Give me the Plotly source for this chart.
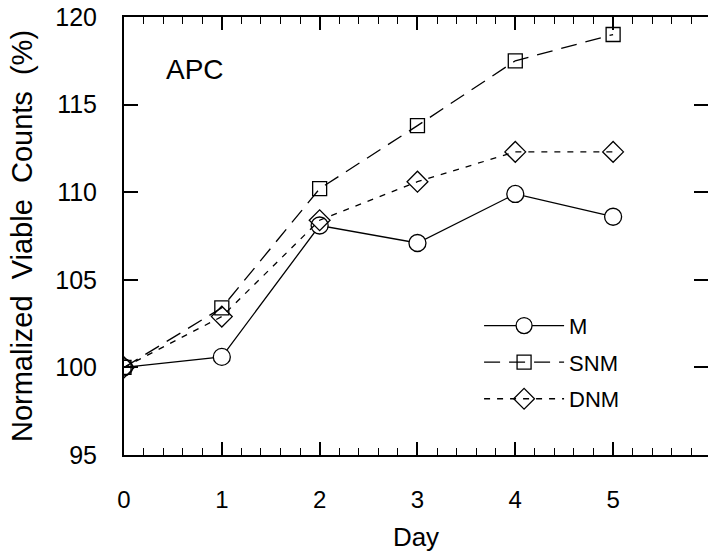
import plotly.graph_objects as go

# ---- data ----
days = [0, 1, 2, 3, 4, 5]
m_vals = [100.0, 100.6, 108.1, 107.1, 109.9, 108.6]
snm_vals = [100.0, 103.4, 110.2, 113.8, 117.5, 119.0]
dnm_vals = [100.0, 102.9, 108.4, 110.6, 112.3, 112.3]
series_names = ["M", "SNM", "DNM"]
x_tick_vals = [0, 1, 2, 3, 4, 5]
y_tick_vals = [95, 100, 105, 110, 115, 120]
panel_label = "APC"
x_title = "Day"
y_title = "Normalized\u00a0 Viable\u00a0 Counts\u00a0 (%)"

FONT = "Liberation Sans, Arial, Helvetica, sans-serif"

fig = go.Figure()
fig.add_trace(go.Scatter(
    x=days, y=m_vals, name=series_names[0], mode="lines+markers", legendgroup="g1",
    line=dict(color="black", width=1.3),
    marker=dict(symbol="circle", size=17, color="white", line=dict(color="black", width=1.3)),
))
fig.add_trace(go.Scatter(
    x=days, y=snm_vals, name=series_names[1], mode="lines+markers", legendgroup="g2",
    line=dict(color="black", width=1.3, dash="16px,9px"),
    marker=dict(symbol="square-open", size=14, color="black", line=dict(color="black", width=1.3)),
))
fig.add_trace(go.Scatter(
    x=days, y=dnm_vals, name=series_names[2], mode="lines+markers", legendgroup="g3",
    line=dict(color="black", width=1.3, dash="6px,7px"),
    marker=dict(symbol="diamond-open", size=16, color="black", line=dict(color="black", width=1.3)),
))

fig.add_annotation(x=0.73, y=117.0, xref="x", yref="y", text=panel_label, showarrow=False,
                   font=dict(family=FONT, size=28, color="black"))

fig.update_layout(
    width=708, height=555,
    margin=dict(l=124, r=0, t=17, b=100),
    paper_bgcolor="white", plot_bgcolor="white",
    font=dict(family=FONT, color="black"),
    showlegend=True,
    legend=dict(x=0.608, y=0.343, xanchor="left", yanchor="top",
                bgcolor="rgba(0,0,0,0)", font=dict(size=22, family=FONT),
                itemwidth=80, tracegroupgap=5, traceorder="grouped"),
    xaxis=dict(
        range=[0, 5.97], tickvals=x_tick_vals, ticks="inside", ticklen=13, tickwidth=1.5,
        tickcolor="black", showline=True, linecolor="black", linewidth=2, mirror="ticks",
        showgrid=False, zeroline=False, tickfont=dict(size=24, family=FONT),
        ticklabelstandoff=22, automargin=False,
        minor=dict(dtick=0.2, ticks="inside", ticklen=7, tickwidth=1.2, tickcolor="black", showgrid=False),
        title=dict(text=x_title, font=dict(size=26, family=FONT), standoff=16),
    ),
    yaxis=dict(
        range=[95, 120], tickvals=y_tick_vals, ticks="inside", ticklen=14, tickwidth=2,
        tickcolor="black", showline=True, linecolor="black", linewidth=2, mirror="ticks",
        showgrid=False, zeroline=False, tickfont=dict(size=25, family=FONT),
        ticklabelstandoff=20, automargin=False,
        title=dict(text=y_title, font=dict(size=29, family=FONT), standoff=14),
    ),
)

fig.write_html("out.html", config={"displayModeBar": False},
               post_script="document.body.style.margin='0px';")
